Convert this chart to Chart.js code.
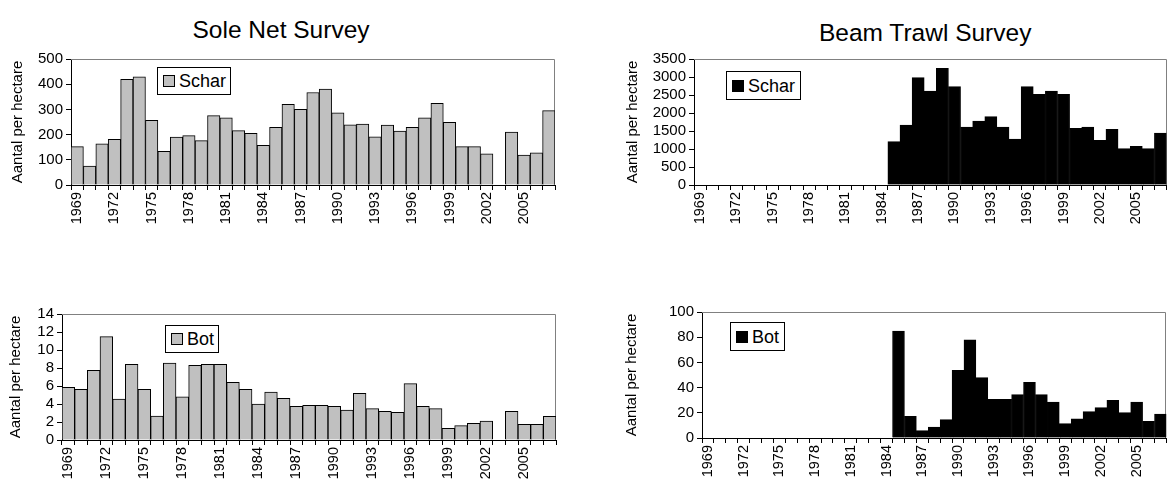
<!DOCTYPE html>
<html>
<head>
<meta charset="utf-8">
<script src="https://cdn.jsdelivr.net/npm/chart.js@4"></script>
<style>
  html, body { margin: 0; padding: 0; background: #fff; }
  body { width: 1169px; height: 483px; overflow: hidden; position: relative; font-family: 'Liberation Sans', Arial, sans-serif; }
  .box { position: absolute; }
  .title { position: absolute; font-size: 24.5px; line-height: 26px; text-align: center; color: #000; white-space: nowrap; }
  .legend { position: absolute; border: 1px solid #000; background: #fff; font-size: 18px; line-height: 20px; color: #000; box-sizing: border-box; display: flex; align-items: center; padding-left: 5px; }
  .legend span.sw { display: inline-block; width: 10px; height: 10px; border: 1px solid #000; margin-right: 4px; }
</style>
</head>
<body>

<div class="title" style="left:181px; top:17px; width:200px;">Sole Net Survey</div>
<div class="title" style="left:819px; top:20px; width:200px;">Beam Trawl Survey</div>

<div class="box" style="left:0; top:0;"><canvas id="soleSchar" width="570" height="245"></canvas></div>
<div class="box" style="left:0; top:250px;"><canvas id="soleBot" width="570" height="233"></canvas></div>
<div class="box" style="left:590px; top:0;"><canvas id="beamSchar" width="590" height="245"></canvas></div>
<div class="box" style="left:590px; top:250px;"><canvas id="beamBot" width="590" height="233"></canvas></div>

<div class="legend" style="left:157px; top:67px; width:74px; height:28px;"><span class="sw" style="background:#c0c0c0"></span>Schar</div>
<div class="legend" style="left:165px; top:325px; width:54px; height:28px;"><span class="sw" style="background:#c0c0c0"></span>Bot</div>
<div class="legend" style="left:726px; top:71px; width:75px; height:29px;"><span class="sw" style="background:#000"></span>Schar</div>
<div class="legend" style="left:730px; top:322px; width:55px; height:29px;"><span class="sw" style="background:#000"></span>Bot</div>

<script>
"use strict"

const years = [
    1969, 1970, 1971, 1972, 1973, 1974, 1975, 1976, 1977, 1978,
    1979, 1980, 1981, 1982, 1983, 1984, 1985, 1986, 1987, 1988,
    1989, 1990, 1991, 1992, 1993, 1994, 1995, 1996, 1997, 1998,
    1999, 2000, 2001, 2002, 2003, 2004, 2005, 2006, 2007,
];

// Sole Net Survey
const soleScharValues = [
    152, 75, 163, 181, 419, 429, 257, 134, 190, 196,
    176, 275, 267, 216, 205, 157, 229, 320, 300, 367,
    381, 286, 239, 242, 191, 238, 214, 229, 267, 324,
    249, 152, 152, 124, null, 210, 119, 128, 295,
];
const soleBotValues = [
    5.85, 5.63, 7.74, 11.48, 4.56, 8.4, 5.63, 2.67, 8.56, 4.8,
    8.3, 8.4, 8.4, 6.4, 5.63, 4.0, 5.33, 4.63, 3.74, 3.85,
    3.85, 3.74, 3.33, 5.19, 3.48, 3.19, 3.07, 6.26, 3.74, 3.48,
    1.3, 1.6, 1.85, 2.1, null, 3.19, 1.74, 1.74, 2.63,
];

// Beam Trawl Survey (starts in 1985)
const beamScharValues = [
    null, null, null, null, null, null, null, null, null, null,
    null, null, null, null, null, null, 1204, 1667, 2981, 2611,
    3241, 2731, 1611, 1778, 1898, 1611, 1278, 2731, 2518, 2611,
    2518, 1574, 1611, 1241, 1546, 1009, 1074, 1009, 1444,
];
const beamBotValues = [
    null, null, null, null, null, null, null, null, null, null,
    null, null, null, null, null, null, 84.9, 17.2, 5.8, 8.7,
    14.6, 53.7, 78, 47.9, 30.7, 30.7, 34.4, 44.2, 34.4, 28.6,
    11.4, 15.3, 20.9, 24.1, 29.9, 20.1, 28.6, 13.2, 19.0,
];

const yTitle = 'Aantal per hectare';
const fontFamily = "'Liberation Sans', Arial, sans-serif";

Chart.defaults.color = '#000';
Chart.defaults.font.family = fontFamily;

// gray frame on top and right side of the plot area
const plotFrame = {
    id: 'plotFrame',
    beforeDatasetsDraw(chart) {
        const a = chart.chartArea;
        const ctx = chart.ctx;
        ctx.save();
        ctx.strokeStyle = '#808080';
        ctx.lineWidth = 1;
        ctx.beginPath();
        ctx.moveTo(a.left, Math.round(a.top) + 0.5);
        ctx.lineTo(Math.round(a.right) - 0.5, Math.round(a.top) + 0.5);
        ctx.lineTo(Math.round(a.right) - 0.5, a.bottom);
        ctx.stroke();
        ctx.restore();
    }
};

function makeChart(id, values, label, fill, border, yMax, yStep, box) {
    const canvas = document.getElementById(id);
    return new Chart(canvas, {
        type: 'bar',
        data: {
            labels: years,
            datasets: [{
                label: label,
                data: values,
                backgroundColor: fill,
                borderColor: border,
                borderWidth: 1,
                barPercentage: 1,
                categoryPercentage: 1,
            }]
        },
        options: {
            responsive: false,
            animation: false,
            layout: {
                padding: { top: box.top, right: box.right, left: 0, bottom: 0 }
            },
            plugins: {
                legend: { display: false },
                tooltip: { enabled: false },
            },
            scales: {
                x: {
                    grid: {
                        offset: true,
                        drawOnChartArea: false,
                        tickLength: 5,
                        color: '#000',
                    },
                    border: { color: '#000' },
                    ticks: {
                        autoSkip: false,
                        minRotation: 90,
                        maxRotation: 90,
                        padding: 2,
                        font: { size: 14.5 },
                        callback: function (v, i) {
                            return i % 3 === 0 ? String(years[i]) : '';
                        }
                    },
                    afterFit: function (s) { s.height = box.xHeight; }
                },
                y: {
                    min: 0,
                    max: yMax,
                    grid: {
                        drawOnChartArea: false,
                        tickLength: 5,
                        color: '#000',
                    },
                    border: { color: '#000' },
                    ticks: {
                        stepSize: yStep,
                        autoSkip: false,
                        padding: 3,
                        font: { size: 15 },
                        callback: function (v) { return String(v); }
                    },
                    title: {
                        display: true,
                        text: yTitle,
                        font: { size: 15 },
                        padding: { top: box.titlePad, bottom: 0 },
                    },
                    afterFit: function (s) { s.width = box.yWidth; }
                }
            }
        },
        plugins: [plotFrame]
    });
}

makeChart('soleSchar', soleScharValues, 'Schar', '#c0c0c0', '#000', 500, 100,
    { top: 59, right: 15, xHeight: 60, yWidth: 71, titlePad: 9 });
makeChart('soleBot', soleBotValues, 'Bot', '#c0c0c0', '#000', 14, 2,
    { top: 64, right: 14, xHeight: 43, yWidth: 62, titlePad: 7 });
makeChart('beamSchar', beamScharValues, 'Schar', '#000', '#000', 3500, 500,
    { top: 59, right: 10, xHeight: 60, yWidth: 104, titlePad: 34 });
makeChart('beamBot', beamBotValues, 'Bot', '#000', '#000', 100, 20,
    { top: 62, right: 10, xHeight: 45, yWidth: 112, titlePad: 33 });
</script>
</body>
</html>
